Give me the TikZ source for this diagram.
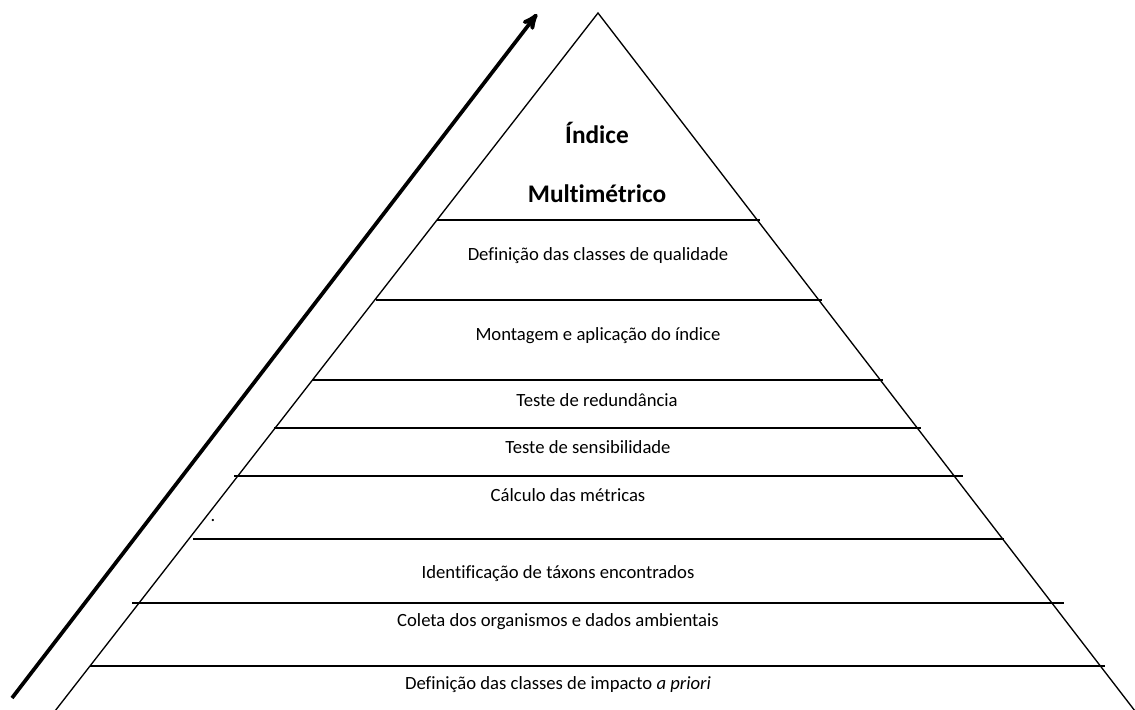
\documentclass[tikz,border=0pt]{standalone}
\usepackage{fontspec}
\setmainfont[Ligatures=NoCommon]{Carlito}
\usetikzlibrary{arrows}

\begin{document}
\begin{tikzpicture}[x=0.75pt,y=-0.75pt,>=stealth',line width=1pt]
    \tikzstyle{every node}=[font=\fontsize{14}{16}\selectfont,inner sep=0pt,text=black]
    \tikzstyle{topo}=[font=\fontsize{19}{22}\selectfont\bfseries]
    \useasboundingbox (0,0) rectangle (1135,710);
    % piramide
    \coordinate (apex) at (598,13);
    \coordinate (bl)   at (55,711);
    \coordinate (br)   at (1135,711);
    \draw (bl) -- (apex) -- (br);
    % niveis
    \foreach \y/\xa/\xb in {220/437/760, 300/376/822, 380/313/883, 428/274/921,
                            476/234/963, 539/193/1004, 603/132/1064, 666/90/1105}
        \draw (\xa,\y) -- (\xb,\y);
    % seta
    \coordinate (seta0) at (12,698);
    \coordinate (seta1) at (537,14);
    \draw[->,line width=2.8pt] (seta0) -- (seta1);
    % textos
    \node[topo] (indice) at (597,133) {Índice};
    \node[topo] (multi)  at (597,194) {Multimétrico};
    \node (qual)   at (598,256) {Definição das classes de qualidade};
    \node (mont)   at (598,336) {Montagem e aplicação do índice};
    \node (red)    at (597,400) {Teste de redundância};
    \node (sens)   at (588,447) {Teste de sensibilidade};
    \node (calc)   at (568,495) {Cálculo das métricas};
    \node (ponto)  at (213,521) {.};
    \node (ident)  at (558,574) {Identificação de táxons encontrados};
    \node (coleta) at (558,622) {Coleta dos organismos e dados ambientais};
    \node (imp)    at (558,685) {Definição das classes de impacto \textit{a priori}};
\end{tikzpicture}
\end{document}
